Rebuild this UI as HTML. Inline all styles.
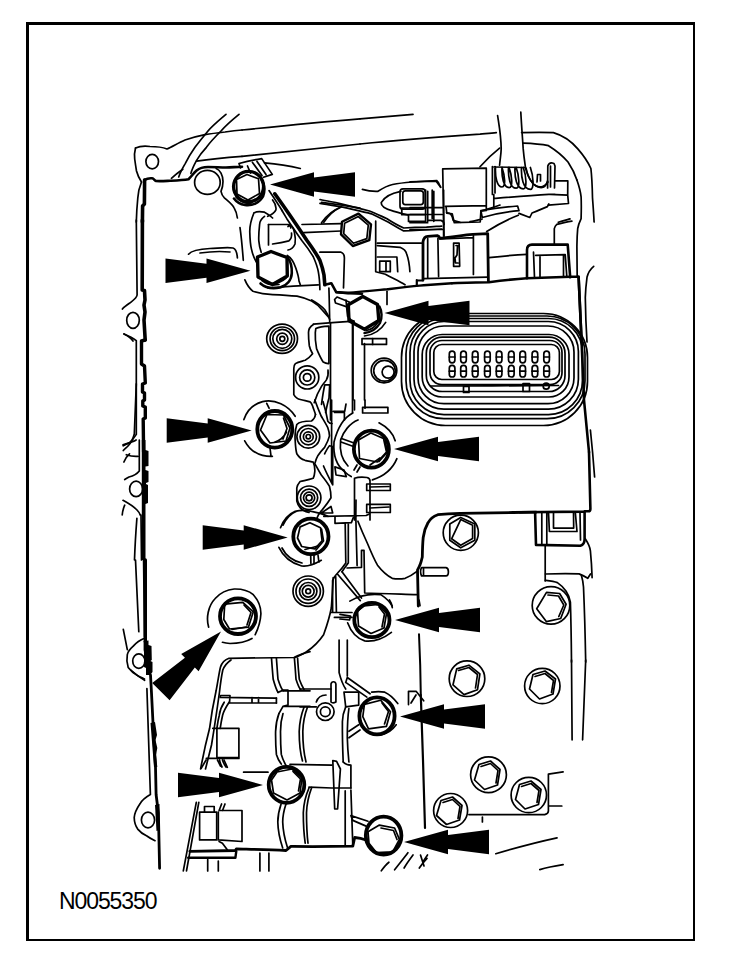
<!DOCTYPE html>
<html><head><meta charset="utf-8"><style>
html,body{margin:0;padding:0;background:#fff;}
body{width:736px;height:954px;overflow:hidden;position:relative;}
svg{position:absolute;left:0;top:0;}
.t{position:absolute;left:59px;top:888px;font-family:"Liberation Sans",sans-serif;font-size:23px;color:#000;letter-spacing:-1.1px;}
</style></head><body>
<svg width="736" height="954" viewBox="0 0 736 954">
<g fill="#000"><rect x="26" y="22" width="669" height="3"/><rect x="26" y="22" width="3" height="919"/><rect x="693" y="22" width="2" height="919"/><rect x="26" y="939" width="669" height="2"/></g>
<g id="drawing" fill="none" stroke="#000" stroke-width="1.7" stroke-linejoin="round" stroke-linecap="round">
<!-- region A: top-left flange -->
<path d="M135.5,148 C140,146 146,146 150,146.5 C156,146.5 162,147 167,149 C172,147 178,143 185,140 C192,137.5 198,136 205,134.6 C212,133.5 218,132.8 225,132 C232,131 236,130.5 242,130"/>
<path d="M135.5,148 C134.5,152 134.2,156 134.7,159 C135.5,165 136,168 136.5,171 C137.5,175 139,178 141.5,182"/>
<path d="M141.5,182 C139,188 138,193 137.8,198 C137,206 136.5,213 136.3,222"/>
<ellipse cx="152.2" cy="161.6" rx="6.3" ry="7.2"/>
<path stroke-width="2.6" d="M144.2,180 C147,178.5 149,178 152,178.3 C154,178.6 154.5,180.5 156,181 C160,181.3 165,181 170,180.8 C176,180.5 183,180.2 188.5,179.2 C192,176 193.5,173 196.6,170.5 C199,168.5 203,167 208,167 C215,167 220,167.5 226,167.5 C232,167.3 236,167 242,166.8"/>
<path stroke-width="3.6" d="M144.6,180 L144.4,204 L142.6,206 L142.4,222"/>
<path d="M226,114.3 C218,121 212,126 208,131 C203,137 199,142 195,147.3 C191,153 188,158 185.2,163.6 C182,169 180,173 178.7,177"/>
<path d="M239,114.3 C232,120 226,125 221,131 C216,136 211,141 206.4,147.3 C202,152 199,156 196.6,160.3 C194,165 192,169 190.9,173.4"/>
<path d="M171.4,178.3 C175,175 179,172 182.8,169.3"/>
<path d="M196.6,161.1 C210,159 225,157.5 242,156.3"/>
<ellipse cx="207.4" cy="182.4" rx="12.8" ry="12"/>
<path d="M216.2,168.5 C220,170 223,175 223,181.5 C223,186 222,189 221,191.3 C221.5,194 222.5,196 224.4,197.8 C228,201 232,204 234,207.6 C236,211 237,214 237.4,218"/>

<!-- region B top -->
<path d="M242,130 C280,126 320,122 360,118.8"/>
<path d="M242,156.3 C280,152 320,148 360,144"/>
<path d="M264.5,162.8 C278,164 290,166 300.3,168.5"/>
<!-- bolt1 -->
<ellipse stroke-width="3.4" cx="248.6" cy="186.6" rx="15" ry="15.2"/><polygon points="247,174.5 258.5,178.8 259.5,193.5 248,200 237,194 236.5,179.5"/>
<path stroke-width="2.6" d="M261.8,180.5 C264.5,184.5 265,191 263,196.5 C259.5,203 252,206 245,205 C240,204.3 236.5,202 234,198.5"/>
<path d="M236,197 C240,202 246,204 252,203 M240,200 C246,203 252,202 258,198"/>
<!-- clip -->
<path d="M239,163.5 L240.5,168 M239,163.5 C246,161.5 254,159.8 261.7,158.6 L272.3,174.4 L263.5,177.3 M252.5,162.5 L262,175.5 M257,161.5 L266,174.5 M247.5,166 L250.5,173"/>
<path d="M269,190.6 C274,198 278,204 282,210.5"/>


<!-- region C/D top right -->
<path d="M360,118.8 C380,117 398,115.5 413,114.3"/>
<path d="M360,144 C400,140 440,137 480,134.2 C486,133.6 491,133 496.3,132.6"/>
<!-- left connector housing -->
<path d="M362.4,189.4 C368,191 373,191.5 378,191.3 C383,188 388,185.5 392.6,184.5 C400,183 406,182.5 412,182 C420,181.5 428,181 436.6,180.5 C438.5,182 439.5,184 440.5,187"/>
<path d="M400.8,191.3 C392,193 384,197 381.2,202.7 C381,206 386,209 392.6,210.9 C398,212.5 403,214 408,215"/>
<rect x="400" y="188.9" width="25.2" height="20.3" rx="3"/>
<rect x="402.8" y="190.8" width="20.5" height="13.8" rx="2.5"/>
<path d="M427.7,191.3 L427.7,221.3 M433.8,191.3 L433.8,221.3 M442.7,168.9 L444,236.3 M442.7,168.9 L486.3,168.2 L486.3,210.4 M445.4,206.3 L486.3,205.7 M446.1,207 L446.8,213.1 L452.2,213.8 L454.3,222.7 L480.2,222 L480.9,211.1 L486.3,210.4 M480.9,211.1 C488,209 494,207 500,205 M410,207.7 L442,207.7 M410,214.5 L442,214.5 M410,222.7 L427.7,222.7 M410,229.5 L444,229.5 M410,181.8 L435.9,181.1 L440.7,187.3"/>
<!-- wires -->
<path d="M497.6,115.5 C499,125 501,135 501.2,148.9 C501,155 500,160 499.6,165.2"/>
<path d="M520.8,112.2 C521.5,125 522.5,138 523.2,148.9 C524,158 525,164 525.6,168.5 C528,177 531,183 536,186 C541,188 546,186 548,182"/>
<path d="M521.6,132.6 C535,132.3 545,132.3 553.4,132.6 C565,136 572,142 577.8,148.9 C584,156 588,162 590.9,168.5 C592,178 592.3,188 592.5,197.8 C593,205 593.6,212 594.1,222"/>
<path d="M523.2,143.2 C532,143.5 540,144 548.5,145.7 C557,151 563,156 568,162 C572,168 575,174 576.9,180"/>
<path d="M480,166.8 C486,160 492,154 499.6,148.1"/>
<path d="M492.4,166.5 L492.4,194.4 M495,166.5 L495,193 M494,167 L525,167.5"/>
<path d="M495.5,167.5 C495.0,177 497.0,187.0 502.0,187.0 C506.0,187.0 505.0,176 502.0,167.5 M502,167.5 C501.5,177 503.5,187.6 509.1,187.6 C513.1,187.6 512.1,176 509.1,167.5 M508.5,167.5 C508.0,177 510.0,188.2 516.2,188.2 C520.2,188.2 519.2,176 516.2,167.5 M515,167.5 C514.5,177 516.5,188.8 523.3,188.8 C527.3,188.8 526.3,176 523.3,167.5 M521.5,167.5 C521.0,177 523.0,189.4 530.4,189.4 C534.4,189.4 533.4,176 530.4,167.5 M526,168 C528,178 533,186 540,187.5 C544,188 546.5,185 547.5,181"/>
<path d="M547.6,188 L547.8,166 C548.5,163.5 550,162.8 551.5,162.8 L554,163.5 L555,166 L554.5,188 M550.5,166 L550.5,187"/>
<path d="M537,182 L537.5,174.5 L540.5,174.5 L540.5,181"/>
<path d="M550,194.3 L567.7,195.1 L568.5,203.5 L548.4,205.2 M555,180.8 L567.8,180.8 L567.7,195.1 M493.8,198.5 C512,197 530,195.5 548.8,194.4 L555,194.4 M493.8,194.6 L493.8,208"/>
<path d="M480.9,210.7 C493,208.5 505,207 517.6,206 L519,210.7 C507,211.5 494,214 482.2,217.5 L480.9,210.7 M519,213.4 L529.8,217.5 L532,213 C537,211 542,209 547.4,206.6 L548.8,204"/>
<path d="M470,221.6 C474,221 478,220 482.2,219 M558.3,222.3 C562,221 566,220 570,218.9"/>

<!-- region E left 220-340 -->
<path stroke-width="3.6" d="M142.4,220 L142.2,290 L144.5,290.5 L145,300 L144,305 L145,312 L144,320 L145.2,340"/>
<path d="M136.3,220 L137.1,295 C136.8,298 133,300.5 129.8,303 C126,305.5 124,307 122.4,309"/>
<ellipse cx="133" cy="320.3" rx="6.3" ry="8"/>
<path d="M124,334 C128,336 131,338 133,341"/>
<path d="M188.5,254.2 C192,250 200,249 210,248.5 C220,248 228,247 233,248 C236,249 237,252 237.4,258 M200,253 C210,251.5 220,251 230,252"/>
<!-- region F -->
<path stroke-width="3.6" d="M274.8,193.8 C285,208 296,224 306.6,240 C311,246 316,253 319.9,260.3 C322,266 323.3,271 324,275 L324.8,284.8"/><path stroke-width="2.6" d="M324.8,284.8 L331.3,283.2 L336.2,292.1 C345,293 352,293.5 362,293.8"/>
<path d="M282,210.5 C284,214 285.8,217 287.3,219.6 C293,228 298,235 302,240.8 C307,247 310.5,252 313.4,257 C316,263 317.5,267 318.3,271.7 C319.5,278 319.8,284 319.9,289.7"/>
<path d="M328.9,288 C329.3,300 329.5,310 329.7,322"/>
<!-- bolt2 -->
<polygon stroke-width="3.4" points="271,251.5 287,257.5 287.3,276 272.5,284.5 258,277 257.5,257"/>
<path stroke-width="2.6" d="M288,258 C291,262 292,267 291.8,273 C291.5,280 287,285.5 280,287.5 C272,289 265,287.5 260.5,283.5"/><path d="M262,280.5 C267,284.5 273,285.5 279,284.5 M267,283 C274,284.5 281,282.5 286,278"/>
<path d="M287.3,255.4 C291,257.5 293.8,262 295.8,268 C297.5,273 298.7,277 299,281 L300.3,284.8"/>
<!-- boss above bolt2 -->
<path d="M268.5,224.5 L288.9,224.5 C292.5,226 294,229 294.5,233 C295.5,237 295.5,241 295,244 C293.5,247.5 291,249.5 288,250"/>
<path d="M268.5,224.5 L268.5,245 M272.6,244 C279,243 284,242 288.9,240.8 C291,239 292,236 291.5,233 M288,226.5 C289,225 291,226 290.8,228"/>
<path d="M253.9,213 C251,220 249.5,226 249.8,232.6 C250,240 250.5,245 251.4,248.9 C252.5,254 254,258 256.3,262 M264.5,216.3 C261,219 259.6,222 259.6,224.5 C258.8,232 258.5,236 258.8,240.8 C259.3,246 260,249 261.2,252.2 M253.9,213 C257,211 261,211.5 264.5,212.2 C268,214 270.5,216 272.6,218 M272.6,200 C275,203 276.5,206 275.9,209.8 C274.5,213 271,215 267.7,216.3"/>
<path d="M240,227.7 C241.5,238 242.5,250 243.3,260.3"/>
<path d="M244.9,279.9 C247,285 250,289 253,291.3 C260,293.5 266,294.2 272.6,294.6 C282,295 290,295.5 297,296.2 C303,297.5 307.5,299 311.7,301 C316,303.5 319,306 321.5,309.2 C324,312 326.5,315 328.9,317.4"/>
<path d="M267.7,288 C285,286.5 300,285.5 318.3,284.8"/>
<path d="M302,224.5 L341,223.6 M303.6,232.6 L341,231 M321.5,202.4 C335,204 348,206 360,208.2 M321.5,222.8 C327,215 333,210 341,207.3"/>
<path d="M319.9,252.2 L341,252.2 C343.5,253 344.4,255 344.4,258 L343.5,288"/>
<path d="M334.6,299.5 L337,297 L349.2,302 L349.2,307.6 L335.5,303 Z"/>

<!-- region G 330-450 x 200-320 -->
<path d="M320,199.5 C326,201 333,202 339,203.3 C350,206 360,208.5 369.5,211 C376,213.5 381,216 386.6,218.5 C392,222 398,225.5 403.7,228 C411,227.5 418,227.2 426.5,227.1 C432,226.8 437,226.4 441.7,226.1"/>
<path d="M320,203.3 C328,204.5 335,205.8 342.8,207.1 C353,209.5 362,211.5 371.4,213.8 C377,216.5 383,219.5 388.5,222.3 C394,225.5 399,228.5 403.7,230.9 C416,230.5 428,229.8 441.7,229"/>
<path d="M323.8,222.3 C328,216 333,211 339,208"/>
<!-- bolt3 double hex -->
<polygon stroke-width="2.4" points="358.5,213.6 371,224.3 369.3,240.2 352.8,246 341,234.3 342,221.8"/>
<polygon points="358.3,216.5 368.3,225.2 366.8,238.6 353.3,243.2 343.7,233.6 344.6,223.3"/>
<path d="M401.8,208 L425.6,208 M401.8,208 L401.8,214.7 L425.6,214.7 M408.5,214.7 L408.5,221.4 L425.6,221.4 M425.6,190 L425.6,222 M432.2,190 L432.2,218.5 M443.6,190 L443.6,235.7"/>
<path d="M446.5,212.8 C450,212.5 452,214 453.2,220.4 L460,222.3 M427.8,220.4 L440.9,220.4 C443,221 444.1,222.5 444.1,224.5"/>
<!-- box area -->
<path d="M375.7,221.2 L375.7,271.7 L385.4,274.2 C392,278 399,281 405,284.8"/>
<path d="M377.3,243.2 L421.3,243.2"/>
<path d="M377.3,245.7 L400,247.3 C404,249 406,251 406.6,253.8 C408.5,259 409.5,265 409.9,271.7"/>
<path d="M377.3,257 L396.9,257 L397.7,271.7"/>
<path d="M379.7,261.1 L390.3,261.1 L390.3,271.7 L379.7,271.7 Z M386,262 L386,271"/>
<path stroke-width="2.4" d="M336.2,292.1 C340,292.5 343,293 348,293 C360,291.5 373,290.5 387,289.3 C397,288 408,286.5 419.7,285.6 C430,284.8 440,284 452,283.2"/>
<path d="M387,291.3 L387,304.4"/>
<!-- connector 2 -->
<path stroke-width="2.8" d="M423,280 L423,241.8 C423.5,238.5 425,236.5 427.7,236.3 L437.3,235.6 C438.5,236 439.5,237 440,238.4"/>
<path d="M427.7,238.4 L427.7,277.2 M437.9,238.4 L438.6,276.5 M473.4,235.6 L473.4,274.5 M441.3,239 L472.7,237.7 M423.6,278.6 L487.7,277.2"/>
<path stroke-width="2.2" d="M416.8,280 L416.8,285.4 M416.8,280.5 L423,280.5"/>

<!-- region H 440-600 x 200-320 -->
<path stroke-width="2.8" d="M440,238.4 C450,237 460,235.5 472.7,234.3 L487.7,233.6 L488.4,281.5"/>

<path d="M453.6,243.1 L459.1,243.1 L459.7,266.3 L453.6,266.3 Z M456,245.5 L457.5,245.5 L457,255 L455,258 L455.5,263 L458,263"/>
<path stroke-width="2.6" d="M452,283.2 C465,282.8 477,282.4 488.9,282.2 C502,280.5 515,279 527,278.3 C545,277.6 560,277.2 570.4,276.8 L578.6,276.8 L581.6,342"/>
<path stroke-width="2.6" d="M527,278.3 L527,250 C527,246.5 529,244.6 532,244.6 L567.7,244.6 L570.2,277.3"/>
<path d="M533.5,252.2 L534.5,277.5 M535.7,255.4 L565.2,254.6 L566.8,276.4 M540,256.5 L540,277 M563.5,255.5 L563.5,276"/>
<path d="M488.9,257.6 C502,256.2 515,255 527,254.3"/>
<path d="M486.7,231.5 C497,225 507,219.5 518.3,215.2"/>
<path d="M554.3,243.7 L554.3,228.6 C555,226 556,225 556.8,224.4 C562,223 567,221.8 571.9,221.1"/>
<path d="M576.9,180 C579,186 580.5,191 581.1,196.8 C581.5,205 581.3,212 581.1,218.6 C579.5,222 578.2,225 577.7,228.6 C577,236 577,241 576.9,247 L577.2,277"/>
<path d="M593.7,266.4 C590,269.5 588,273 587,277.3 C586,285 585.5,291 585.3,297.4 C585.5,312 586,326 587,342"/>

<!-- region left 330-450 -->
<path stroke-width="3.4" d="M145.2,340 L141.5,341 L141.5,364 L144.5,366 L145.3,383 L142.5,384 L142.5,392 L144.5,393 L144.5,400 L142.8,401 L142.8,406 L145.3,407 L145.3,418 L143.2,419 L143.6,452"/>
<path d="M124,334 C129,336 133,338 136.3,340.6 L136.3,434.4 C134,438 131.5,441 129.8,442.5 C127,444 125,445 123.3,445.8"/>
<path d="M136.3,383.8 L134.3,434 C133,439 131,443 128,446 C126,448 124.5,449 123.3,450.5"/>
<!-- plugs -->
<ellipse cx="282.1" cy="338.8" rx="15.4" ry="14.6"/>
<ellipse cx="282.3" cy="338.8" rx="12.2" ry="11.8"/>
<circle cx="282.3" cy="338.8" r="9.5"/>
<circle cx="282.3" cy="338.8" r="5.6"/>
<circle cx="282.3" cy="338.8" r="2.5"/>
<circle cx="307.2" cy="377.4" r="11.6"/>
<circle cx="307.2" cy="377.4" r="7.6"/>
<circle cx="307.2" cy="377.4" r="3.8"/>
<!-- profile -->
<path d="M311.7,300 C317,303 321.5,306 324.8,309.8 C327,313 328.5,316 329.7,319.6"/>
<path d="M313.4,324.2 C326,323 340,322 354,321.2"/>
<path d="M313.4,324.5 C310,326.5 308.5,330 308.5,332.6 C308.5,337 308.8,342 309.3,345.7 C310,349 311.5,352 312.6,353.8 C310,357 308,359 305.2,360.3 C301,361.5 298,362 295.4,363.6 C293.8,365 293.8,366.5 293.8,368.5 L293.8,394.6 C295.5,397.5 297.5,399 300.3,399.5 C304,400.5 307,401 310.1,401.9 C311.5,403 312,404.5 312.6,406 C313.5,409 314.5,411 315.5,414.5"/>
<path d="M328,370.1 C328.5,374 328,377 326.4,379.9 C325,382 323,384 321.5,386.4 C318,392 316,397 314.2,402.7"/>
<path d="M315.8,328.5 C319,327 324,326.3 328.9,326.1 L328.9,363.6 C326.5,363.8 324.8,363 323.2,362 C320.5,358 318.5,353 316.6,348.9 C315.5,343 315,338 315.3,332.6 Z"/>
<path d="M321.5,404.4 C322.5,397 323.5,390 324.8,384.8 L329.7,384.8 L329,398 C327.5,403 326.5,408 325.6,412.5"/>
<path d="M330.5,322.8 L330.5,420 M352.5,321.2 L352.5,412.5 M334.6,412.5 L344.4,412.5 L344.4,420"/>
<path d="M346,300 C346.5,306 347,311 347.6,316.3 C349.5,319 351.5,320.5 354,321.2"/>
<!-- bolt4 -->
<polygon stroke-width="3.4" points="362.8,296.5 377.5,304.5 378.8,320.5 364.5,329.3 349,320.8 348.3,304.8"/>
<path stroke-width="2.4" d="M379.5,306.5 C382,311 382.3,318 380,323 C376.5,329 371,332.3 364.5,333"/><path d="M366,330.5 C371,330 375,327 378,322"/>
<path d="M364.5,336 C373,335 381,330 385.7,322.4"/>
<path d="M353,324 L353,400 M364.5,343.6 L364.5,400"/>
<rect x="362" y="338.7" width="24.5" height="5.7"/>
<path d="M372.6,338.7 L372.6,344.4"/>
<ellipse cx="384" cy="370.5" rx="12.8" ry="12.3"/>
<ellipse cx="384.5" cy="370.8" rx="10.8" ry="10.4"/>
<circle cx="388.1" cy="372.1" r="6"/>
<path stroke-width="2.6" d="M578.6,276.8 L581.6,342 L584,400 L589,452"/>

<!-- big connector -->
<rect x="433.8" y="344.5" width="125.6" height="35.0" rx="8" ry="8.0"/>
<rect x="430" y="340.5" width="132.0" height="44.2" rx="12" ry="12.0"/>
<rect x="426.3" y="337.2" width="138.7" height="54.3" rx="16" ry="16.0"/>
<rect x="422.2" y="334.5" width="146.8" height="62.5" rx="20" ry="20.0"/>
<rect x="418" y="326" width="156.0" height="77.7" rx="26" ry="26.0"/>
<rect x="414" y="321.5" width="164.4" height="87.7" rx="30" ry="30.0"/>
<rect x="410" y="318.5" width="172.5" height="96.1" rx="34" ry="34.0"/>
<rect x="406" y="316" width="179.0" height="102.7" rx="38" ry="38.0"/>
<rect x="401.5" y="313.5" width="186.0" height="112.0" rx="44" ry="44.0"/>
<rect x="449.3" y="351.2" width="5.6" height="11.6" rx="2.8"/>
<path d="M449.3,357.0 H454.9"/>
<rect x="460.7" y="351.2" width="5.6" height="11.6" rx="2.8"/>
<path d="M460.7,357.0 H466.3"/>
<rect x="472.4" y="351.2" width="5.6" height="11.6" rx="2.8"/>
<path d="M472.4,357.0 H478.0"/>
<rect x="484.6" y="351.2" width="5.6" height="11.6" rx="2.8"/>
<path d="M484.6,357.0 H490.2"/>
<rect x="496.3" y="351.2" width="5.6" height="11.6" rx="2.8"/>
<path d="M496.3,357.0 H501.9"/>
<rect x="508.5" y="351.2" width="5.6" height="11.6" rx="2.8"/>
<path d="M508.5,357.0 H514.1"/>
<rect x="519.9" y="351.2" width="5.6" height="11.6" rx="2.8"/>
<path d="M519.9,357.0 H525.5"/>
<rect x="532.1" y="351.2" width="5.6" height="11.6" rx="2.8"/>
<path d="M532.1,357.0 H537.7"/>
<rect x="543.8" y="351.2" width="5.6" height="11.6" rx="2.8"/>
<path d="M543.8,357.0 H549.4"/>
<rect x="449.3" y="365.4" width="5.6" height="11.6" rx="2.8"/>
<path d="M449.3,371.2 H454.9"/>
<rect x="460.7" y="365.4" width="5.6" height="11.6" rx="2.8"/>
<path d="M460.7,371.2 H466.3"/>
<rect x="472.4" y="365.4" width="5.6" height="11.6" rx="2.8"/>
<path d="M472.4,371.2 H478.0"/>
<rect x="484.6" y="365.4" width="5.6" height="11.6" rx="2.8"/>
<path d="M484.6,371.2 H490.2"/>
<rect x="496.3" y="365.4" width="5.6" height="11.6" rx="2.8"/>
<path d="M496.3,371.2 H501.9"/>
<rect x="508.5" y="365.4" width="5.6" height="11.6" rx="2.8"/>
<path d="M508.5,371.2 H514.1"/>
<rect x="519.9" y="365.4" width="5.6" height="11.6" rx="2.8"/>
<path d="M519.9,371.2 H525.5"/>
<rect x="532.1" y="365.4" width="5.6" height="11.6" rx="2.8"/>
<path d="M532.1,371.2 H537.7"/>
<rect x="543.8" y="365.4" width="5.6" height="11.6" rx="2.8"/>
<path d="M543.8,371.2 H549.4"/>
<path d="M430.5,386 C470,386 520,385.8 558.5,385.5"/>
<rect x="463.5" y="386.5" width="5.5" height="6"/><rect x="523" y="383.5" width="6.5" height="8"/><circle cx="546.2" cy="386.2" r="3"/>
<!-- row 400-520 middle -->
<!-- bolt5 -->
<ellipse stroke-width="3.8" cx="274.8" cy="429.3" rx="17.5" ry="18.3"/>
<polygon points="267,414.5 283.5,415 290,428 286,441 270,443 260.5,430"/>
<path d="M283.5,418 L287,428.5 L283,439 M286.5,432 C284,437 280,440.5 275,442"/>
<path d="M243.9,419.6 C247,410 254,404 262.6,401.6 C275,399 288,405 295.2,416.3"/>
<path d="M244.7,440.8 C249,449 255,453.5 262.6,455.4 C266,456.2 269,456.4 272.4,456.3 M270,448 L271,456"/>
<path d="M266.7,403.3 L269.1,408.2"/>
<!-- plugs 4,5 -->
<circle cx="308.3" cy="436.7" r="11.4"/><circle cx="308.3" cy="436.7" r="8.2"/><circle cx="308.3" cy="436.7" r="4.9"/><circle cx="308.3" cy="436.7" r="2.2"/>
<circle cx="309.1" cy="497.8" r="11.8"/><circle cx="309.1" cy="497.8" r="8.6"/><circle cx="309.1" cy="497.8" r="5.6"/><circle cx="309.1" cy="497.8" r="3"/>
<path d="M315.5,414.5 C315,418 313,420 311.5,421 C306,421 300,421 296.8,424.5 C295,430 294.8,436 295.2,440.8 C295.5,447 296,451 296.8,453.8 C299,457.5 302,459.5 305,460.3 C308,461 311,461.5 313.2,462 C314.5,465 315,468 314.8,471.7 C314.5,475 314,477 313.2,478.3 C308,480 304,480.5 300.1,481.5 C298,484 297,486 296.8,488 L296.8,501.1 C297.5,504 298.5,506 300.1,507.6 C302,510 305,511.5 309,512.5"/>
<path d="M314.8,400 C317,406 319,411 321.3,416.3 C323.5,420 326,424 327.8,427.7 C329,431 329.5,433.5 329.5,435.9 C328.5,440 326.5,444 324.6,447.3 C322,450 320,452.5 318,455.4 C316.5,458 315.5,461 314.8,463.6 C317,467.5 319,471.5 321.3,475 C324.5,479 327.5,483 329.5,486.4 C330.5,490 331,494 331,497.8 C328.5,502 325,506.5 321.3,510.9 C319.5,513 318,515 317,518"/>
<path d="M323,401.6 C325,408 326.5,414 327.8,421.2 C329,423 330.5,423.5 332,423.5"/>
<path d="M324.6,453.8 C326,451 327.5,448 329.5,445.7 L332.7,446.5 L332.7,484.8 C329,478 326,472 323.5,466"/>
<!-- bolt6 -->
<ellipse stroke-width="3.8" cx="371.4" cy="449.2" rx="17.5" ry="18.5"/>
<polygon points="370.8,433 383.5,438.5 386.5,452 377.3,462 359.5,458.5 358.5,440"/>
<path d="M385,441 L387.5,452 L379,461.5 M380,458 L370,465"/>
<path d="M352.8,413 C343,418 337,430 334,442 C333,455 337,466 345,472 C347,474 349,475.5 351.2,476.6 M358,420 C350,423 343,432 340.6,440 C339.5,450 342,460 348,466"/>
<path d="M379,422.8 C387,427 393,433 395.2,440.8 M396.9,458.7 C393,468 385,476 372.4,479.9"/>
<path d="M341.5,438.5 L354,443 M341,442 L353.5,446.5 M357,465 L354,470 M360,467 L357,472"/>
<path d="M354.5,478.3 L354.5,520 M370,480 L370,520 M354.5,478.3 C358,477 363,477 367,477.5 C369,478 370,479 370,481"/>
<rect x="366.7" y="484" width="23.6" height="6.5"/><rect x="366.7" y="504.4" width="23.6" height="8.1"/>
<path d="M370,487 L389,486.5 M370,508 L389,507"/>
<rect x="362.6" y="407.3" width="25.3" height="5.7"/>
<path d="M354.5,400 L354.5,409.8 M365,400 L365,408.2 M333.3,411.4 L344.7,411.4 L346,404 M331.6,400 L331.6,482 M334.9,466.9 L336,475 L346.3,476.6 L344,470 Z"/>
<!-- connector 4 tab etc -->
<path stroke-width="2.6" d="M589,452 L590.4,508.8 C590.3,510.5 589.5,511.3 588.5,511.3 L584.6,511.3 M584.6,511.6 L520,512.2"/>
<path d="M590.4,430 C592,445 593.5,462 594.6,477"/>
<path stroke-width="2.6" d="M535.1,512.2 L536,544.9 L580.4,545.7 C583,545 584.6,542 584.6,539 L584.6,512"/>
<path d="M541.8,512.2 L541.8,544 M546.8,512.2 L546.8,544 M548.5,512.2 L549.4,531.5 L577,531.5 L575.3,512.2 M553.5,512.2 L553.5,528.1 L573.7,528.1 L573.5,512.5 M580,512.5 L580.5,540"/>
<path d="M545.2,545.7 L545.2,581 M585.4,539 C588,543 590,547 590.4,550.8 C591.3,560 591.8,568 592.1,577.6"/>

<!-- left column 440-560 -->
<path fill="#000" stroke="none" d="M141.8,450 L141.8,560 L145.5,560 L145.5,504 L148,503 L148,485 L146,484 L146,483 L148.5,482 L148.5,471 L145.5,470 L145.5,466.5 L148.5,466 L148.5,451 L145.5,450 L145.5,440 L141.8,440 Z"/>
<path d="M123,444.9 C128,443 133,442 136.1,440 M126.3,454.7 C130,456 134,456.5 137.7,456.3 M123.9,462 C125,459 127,456 129.5,453.8 M139.3,440 L139.3,471 C137,474 133,476 129,477 C127,478 125.5,479 124.7,479.5"/>
<ellipse cx="136.1" cy="488.9" rx="6.5" ry="7.7"/>
<path d="M123,500.3 C128,503 133,506 137,510 C139,512 140,514 140.2,515 M124.7,505.2 C123.5,508 122.5,511 122.2,515 M141,515 L141.5,560 M136.9,518.3 C136,530 135,545 134.5,560"/>

<!-- 500-620 middle-left -->
<ellipse stroke-width="3.8" cx="310.9" cy="536.4" rx="17.6" ry="17.8"/>
<polygon points="300.1,526.9 309.9,522.8 320.5,527.7 322.1,540.8 314.8,548.9 301.7,546.5 297.5,538"/>
<path d="M321.5,529 L323.5,541 L316,550 M318,546 L305,549.5"/>
<path d="M280.5,527.7 C284,519 289,514 295.2,511.4 C300,510 306,510 311.5,511.4 C318,512.5 323,514 327.8,516.3 M283,525 C287,517 292,513 297,511"/>
<path d="M278.9,547.3 C283,556 291,563 301.7,566 C309,567 315,564 321.3,560.3 M282,548 C286,556 293,561 302,563"/>
<path d="M310.7,555.4 L310.9,563.6 M314,555.4 L314,563.6 M318,555 L318.9,562"/>
<circle cx="308.2" cy="591.2" r="15.2"/><circle cx="308.2" cy="591.2" r="12.2"/><circle cx="308.2" cy="591.2" r="8.7"/><circle cx="308.2" cy="591.2" r="5.9"/><circle cx="308.2" cy="591.2" r="2.4"/>
<path d="M321.3,513 L331,506.5 L332.7,513 Z"/>
<path d="M335,517 L335,523.3 L351.4,522.6 L353.3,517.6 M345.2,523.9 L345.8,562.9 C343,567 340,570.5 337.6,573 C335.5,575 334,577 332.6,580.5 L332.6,612 M348.3,523.9 L348.3,562.9 C346,566 344,568.5 342,571.7 M335.7,576.7 L336.4,612"/>
<path d="M331,612.5 L352,612.5 M334.4,617.4 L352,617.4"/>

<!-- 340-460 x 500-620 -->
<path d="M323.8,516.4 L366.1,515.5 L369.3,513.9 M356,500 L355.8,516.4"/>
<path stroke-width="2.8" d="M536,512.2 C510,512.5 480,513 460,513.3 C452,513.6 445,514 437.8,514.7 C433,516.5 430,519 428,522.8 C425,528 423.8,532 423.2,537.5 C422.5,545 422.4,551 422.3,557 C421.5,560.5 420.8,563 419.9,565.2 C419,567 418.2,568.5 417.5,570.1 L418.3,606"/>
<path d="M421.5,567.7 L446,567.7 C447.5,568 448.4,570 448.4,571.7 C448.4,574 447.5,575.8 446,575.8 L421.5,575.8 C420.3,573 420.3,570 421.5,567.7 Z M423.5,568 L423.5,575.5"/>
<path d="M357.9,521.2 C361,529 364.5,537 367.7,544 C371,552 374,559 377.5,565.2 C382,571 386,575 392.2,578.3 C396,579 401,579 405.2,578.3 C409,577 413,574.5 416.6,571.7"/>
<path d="M355.8,516.4 L357.1,565.4 M347,568 L361.5,567.3 M361.5,567.3 L361.5,550.3 L364,550.3 L364.7,593 C380,593.3 398,594 416.6,594.6"/>
<path d="M337.6,574.2 L360.3,600.6 M342,571.7 L361.5,598.1"/>
<path d="M349.8,601.1 C358,596 370,593.5 380.8,594.6 C386,598 390,602 392.2,606"/>

<!-- thin bolts right -->
<circle cx="460.8" cy="532.8" r="17.6"/>
<polygon points="460.7,517.4 474.8,523.9 474.8,540.2 460.7,547.8 449.8,540.2 449.8,523.9"/>
<polygon points="460.7,519.6 472.6,525.2 472.6,538.6 460.7,545.2 451.6,538.8"/>
<circle cx="551" cy="605.4" r="18.8"/>
<polygon points="546.5,592.4 559.6,593.5 566.1,604.3 560.7,618.5 546.5,621.7 536.7,608.7"/>
<path d="M548,595 L558.5,596 L563.8,605 L558.8,616.5"/>
<path d="M545.4,574 C560,573.5 570,573.5 579.1,573.9 C582,575 585,576.5 587.8,578.3 C588.5,577 589.5,575.5 590.5,574"/>
<path d="M545.4,580.4 C550,581 554,581.5 557.4,582.6 C561,585 564,588 566.1,591.3 C568.5,595 570,599 570.4,602.2 C571,620 571.3,640 571.5,662"/>
<path d="M581.3,575 C582.5,579 583.2,583 583.5,587 C584.5,610 585.2,635 585.7,662"/>

<!-- lower left 560-680 -->
<path stroke-width="3.4" d="M145.3,560 L145.3,641.5"/>
<path fill="#000" stroke="none" d="M143.6,641 L148.5,640.5 L148.5,645 L151.5,646 L151.8,660 L150.5,661 L152.5,662 L152.5,672 L150.2,675 L146,675 L146,668 L144,667 L144,652 L143.6,650 Z"/>
<path d="M143.6,560 L144.5,636.6 M135.5,560 L138.8,631.7 M123.3,629.3 L127.3,649.7 M144.5,638.3 C140,640 136,643 133,646.4 C130,649 128,651.5 127.3,654.6 C126.5,659 127,664 128.2,667.6 C131,671.5 134.5,674 137.9,675.8 C140,677 142.5,678 144.5,679"/>
<ellipse cx="138.8" cy="661.1" rx="6.1" ry="7.3"/>
<!-- bolt 11 -->
<ellipse stroke-width="3.8" cx="238" cy="616.2" rx="18" ry="17.8"/>
<polygon points="224.7,604.2 242.8,602.3 253.3,611.8 248.5,627.1 229.5,629 223.8,619.5"/>
<path d="M244,605 L251,612.5 L247,625 M246.5,627 L232,629.5"/>
<path d="M208.6,627.1 C206,618 208,606 215.2,598.5 C221,592 228,589.5 234.2,589 C242,588.8 249,591 253.3,594.7 C258,600 261,606 260.9,613.8 C260.5,622 258,629 255.2,634.7 M252,638.5 C246,642 238,643.5 230,643.5 C227,643.3 225,643 222.5,642.3"/>
<!-- bolt 8 (arrow7) -->
<ellipse stroke-width="3.8" cx="371.9" cy="620" rx="17.6" ry="17.2"/>
<polygon points="364,606 378,604.5 386.5,613.5 384,628 371,633.5 358.5,626 357.5,611"/>
<path d="M379,607 L384.5,614 L382,627"/>
<path d="M347.6,622.8 C351,632 357,638.5 364.7,640.9 C375,642 384,638 391.4,632.3 M389.5,600 C391,602 392,605 392.3,607.6"/>
<path d="M340,614.3 L350.5,616.2 L349.5,620 L340,619"/>
<path stroke-width="2" d="M419,634.2 L420.2,665 L420.8,695.1"/>
<path d="M408.5,691.3 L408.5,704.6 M408.5,691.3 L416.1,691.3 L423.7,700.8 M416,695 L411,703 M419,600 L420,605.7"/>
<!-- lower body outline -->
<path d="M333.2,577.6 C332.5,590 332,600 331.3,608 C329,620 326,628 323.6,634.7 C318,643 312,648 306.5,651.8 C302,654.5 298,656.5 295.1,657.5 C280,657.8 260,658 229,658.3 C224,660 221.5,664 220.5,667 C219,673 218.2,680 216.1,690.8 C213,705 211,717 209.6,728.3 C206,742 203,756 200.6,769"/>
<path d="M231,660 C226.5,663 224,667 222.8,670 C221.5,676 220.5,683 219.5,692 C217,710 214,730 211.5,745 C209,755 207,763 205.5,769"/>
<path d="M220.2,697.3 L276.4,698.1 M229.1,703 L276.4,703 M220.2,697.3 L220.5,695.5 L230,695.5 L229.5,703 M252,697.5 L252,703 M258.5,697.5 L258.5,703"/>
<path d="M224.2,702.2 C221,707 219.8,711 219.3,715.2 C218,720 217.5,724 216.9,728.3 M229.1,702.2 C226,707 223.5,711 222.6,715.2 C221.5,720 220.8,724 220.2,728.3"/>
<rect x="216.9" y="728.3" width="22" height="29.3"/>
<path d="M212.8,728.3 L216.9,728.3 M206.3,758.4 L238.9,758.4 M219.5,760 C220,763 221,765 222,767 M222.5,760 C223.5,763 224.5,765 226,767"/>
<!-- cylinder1 -->
<path d="M271.5,658.2 C272,665 272.5,672 273.2,679.3 C274.5,684 276,689 278,692.4 M276.4,658.2 C277,665 277.3,672 278,679.3 C279.5,684 281,688 283,690.8 M294.4,658.2 C295,665 295.5,672 296,679.3 C297.5,684 299,688 300.9,690 M297.6,658.2 C298,665 298.6,672 299.3,679.3 C301,684 302.5,687 304,689.5"/>
<path d="M294.4,657.3 C298,655.5 301,654 304.1,653.3 C306,652.7 308,652 310,651.6"/>
<path d="M283,690.8 L310,690.8 M283,706.3 L310,706.3 M278,692.4 L283,690.2 L288,690.2 L288,705 L283,706.3 L278.9,713.6 M276.4,698.1 L276.4,703"/>
<!-- cylinder2 -->
<path d="M278.9,713.6 C276.5,720 275.8,726 275.6,731.5 C275.5,740 275.8,748 276.4,754.4 C277.5,758 279,761 281.3,764.1 M283,713.6 C281,720 280.5,726 280.5,731.5 C280.5,740 280.8,748 281.3,754.4 C282.5,759 284,762 286.2,765.8 M304.1,707 C301,715 299.5,723 299.2,731.5 C299.2,745 300.5,754 302.5,760.9 M307.5,707 C304.5,715 303,723 302.8,731.5 C302.8,745 304,754 306,762"/>
<path d="M300,689 L331,689 M300,706.8 L316.3,706.8 M339.1,640 C339.1,655 339.1,665 339.1,672.6 C341,680 343,685 345.7,689 M347.3,640 L347.3,676"/>
<path d="M345.7,706.8 C343.5,712 342.5,716 342.4,721.5 C342.3,735 342.6,748 343.2,762 M348.9,708.5 C347.8,716 347.3,728 347.3,737.8 C347.5,746 348,753 348.9,762"/>
<path d="M344,692.2 L358.7,692.2 L358.7,705.2 L345.7,706.8 Z"/>
<path d="M331,684 C331.5,681 335.5,681 335.9,684 L335.9,702 C334,703 332,703 331,702 Z"/>
<circle cx="325.3" cy="711.7" r="8.8"/><circle cx="325.3" cy="711.7" r="4.9"/>
<path d="M316.3,702 C318,697 322,695 326,695"/>
<path d="M347.3,677.5 L370.1,693.8 M345.7,682.4 L366.9,697.1 M347.3,677.5 L345.7,682.4"/>
<path d="M348.9,731.3 L358.7,724.8 M348.9,737.8 L360,730"/>
<!-- bolt12 -->
<ellipse stroke-width="3.8" cx="377" cy="715.9" rx="17.6" ry="18.5"/>
<polygon points="364.4,704.4 380.7,700.3 390.5,711.7 386.4,726.4 368.5,728.9 362.8,716.6"/>
<path d="M382,703 L388.5,711.5 L384.5,724"/>
<path d="M371.7,692.2 C376,691.5 381,691.5 384.8,692.2 C390,694.5 394,698.5 397.8,703.6 M396.2,724.8 C392.5,730 387,733.5 381.5,734.6"/>

<!-- bottom 760-880 -->
<ellipse stroke-width="3.8" cx="286.5" cy="784.8" rx="17.8" ry="18"/>
<polygon points="277,772 292,769 302,778 300,793 287,800 273.5,793 271.5,780"/>
<path d="M293,771.5 L300.5,779 L298.5,791"/>
<path d="M243.6,772.2 L268,772.2"/>
<path d="M201.2,768.2 L206.1,760 M217.5,760 L220.5,766 M224,760 L227.3,767.3"/>
<path d="M196.3,802.4 L183.3,870.9 M198.8,802.4 L186.5,870.9"/>
<rect x="199.6" y="812.2" width="17.1" height="27.7"/>
<path d="M204.5,812.2 L204.5,806.5 L214.2,806.5 L214.2,812.2 M219.1,810.5 L242,810.5 L242,841.5 L218.3,839.9 M219.1,841.5 L222.4,843.2 L227.3,849.7 M221.6,804 L219.1,810.5 M225,804 L222.5,810.5 M218.3,812 L218.3,840"/>
<path stroke-width="2.8" d="M189.8,851.3 L235.4,850.5 L236.3,848.9 C250,849.3 268,849.7 286,850.5 L290.9,846.4 C300,846.5 320,846.8 352.8,846.1 L354.7,837.5 C358,837.8 362,838.5 366,840"/>
<path stroke-width="2.4" d="M188.2,857.8 L235.4,857.8 L236.3,851"/>
<path d="M207.7,859.5 L207.7,870.9 M218.3,861.1 L218.3,870.9 M259.9,853 L259.9,870.9 M268.9,853 L268.9,870.9"/>
<!-- cylinder3 -->
<path d="M281.1,804 C279,810 277.8,816 277.8,822 C278,832 280,840 282.7,848 M286,804 C284,810 282.7,816 282.7,822 C283,832 285,840 287.6,848"/>
<path d="M309,788 C305.5,796 303.6,804 303.3,812.8 C303.3,825 304,835 305.2,843.2 M311.7,787.5 C308.5,796 306.8,804 306.5,812.8 C306.5,825 307,835 308,843.2"/>
<path d="M309,787.1 L331.8,788 M330,788 L350.9,788 M350.9,790 L352.8,845.1 M345.2,790.9 L345.2,845.1"/>
<path d="M332.8,760.5 L336.6,761.4 L340.4,769 L337.6,809 L334.7,809 Z"/>
<path d="M290,764.3 C300,764.5 315,764.8 331.8,765.2"/>
<path d="M343.2,762 C345,764 347.5,765 350.9,765.2 L350.9,788"/>
<!-- bolt14 -->
<ellipse stroke-width="3.8" cx="383.6" cy="835.6" rx="17.8" ry="19"/>
<polygon points="368,831.8 379.4,825.1 394.6,828 399.4,839.4 392.7,851.8 376.6,852.7 369,843.2"/>
<path d="M381,828 L393.5,830.5 L397,839.5"/>
<path d="M350.9,815.6 L368,821.3 M352.8,820.4 L366.1,826.1 M350.9,815.6 L352.8,820.4"/>
<path d="M381.3,870.8 C384,867 386.5,864 388.9,862.2 M394.6,869.8 C399,864 404,858 407.9,852.7 M404.1,868 C407,863 410,859 413,855 M419.3,868 C422,864 424.5,861 427,858.4"/>
<path stroke-width="2.2" d="M420.8,695.1 L423,760 L425,828"/>

<!-- right-bottom thin bolts -->
<circle cx="467" cy="678.7" r="17.8"/>
<polygon points="456.7,668.9 468.9,665.2 479.9,673.8 477.5,689.7 464,694.6 453,684.8"/>
<path d="M458.5,670.5 L468.9,667.5 L477.5,674.5 L475.5,688"/>
<circle cx="542.3" cy="686" r="17.7"/>
<polygon points="533,674.5 545,671 555.5,679 553,694 539.5,699 529.5,689"/>
<path d="M535,676.5 L545,673.5 L553.5,680.5 L551.5,692.5"/>
<circle cx="488.5" cy="774.8" r="17.9"/>
<polygon points="479,764.5 490.5,761 500,769.5 497.5,785 484.5,789.5 474.5,780"/>
<path d="M481,766.5 L490.5,763.5 L498,770.5 L496,783"/>
<circle cx="528.8" cy="795" r="17.7"/>
<polygon points="519.5,784.5 531,781 541,789.5 538.5,804.5 525,809 515.5,799.5"/>
<path d="M521.5,786.5 L531,783.5 L539,790.5 L537,802.5"/>
<circle cx="450.6" cy="810.5" r="17"/>
<polygon points="441,800.5 452.5,797 462,805.5 459.5,820 446.5,824.5 436.5,815.5"/>
<path d="M443,802.5 L452.5,799.5 L460,806.5 L458,818.5"/>
<path d="M468.9,814.6 C490,814.6 520,814.6 544.7,814.6 C547,814 548.4,812.5 548.4,810.9 L548.4,774.2 L563.1,771.8 M548.4,806 L561.8,806"/>
<path d="M482.4,817 L482.4,822"/>
<path d="M495.8,853.7 C515,848 535,842.5 557,837.8 M539.8,869.6 C547,867.5 555,866 563.1,864.7"/>
<path d="M420.5,855 L424,866 M423.5,861 L427.5,855"/>
<path d="M571.5,660 L572.1,739.8 M585.7,660 L582.6,739.8"/>

<!-- lower left edge -->
<path stroke-width="2.8" d="M150.5,675 L151.5,693 L153,723 L155.5,766.9 L156.1,794.5 L158.4,813 L159.6,868.3"/>
<path fill="#000" stroke="none" d="M150.5,723 L155,722 L157,735 L155.5,740 L157.3,748 L156,755 L157.3,766.9 L154,767 Z"/>
<path d="M146.9,688.5 L150.4,794.5 C146,797 142,800 140,803.8 C136.5,809 134.5,813 134.2,817.6 C134.3,822 135.5,826 137.7,829.1 C140.5,832.5 143.5,834.5 146.9,836 C149.5,838 152.5,839.5 155,840.7"/>
<ellipse cx="148" cy="820" rx="6.6" ry="7.8"/>
<path d="M130.8,670 C135,674 140,677.5 144.6,680.4"/>
<path fill="#000" stroke="none" d="M155,805 L159.5,804 L159.5,830 L156.5,831 Z"/>

</g>
<g id="arrows" fill="#000">
<path d="M0,0 L44,-12.3 L44,-7 L85,-12.3 L85,12.3 L44,7 L44,12.3 Z" transform="translate(270,184.5)"/>
<path d="M0,0 L44,-12.3 L44,-7 L85,-12.3 L85,12.3 L44,7 L44,12.3 Z" transform="translate(250.5,270.7) scale(-1,1)"/>
<path d="M0,0 L44,-12.3 L44,-7 L85,-12.3 L85,12.3 L44,7 L44,12.3 Z" transform="translate(384.5,313)"/>
<path d="M0,0 L44,-12.3 L44,-7 L85,-12.3 L85,12.3 L44,7 L44,12.3 Z" transform="translate(251.7,430.5) scale(-1,1)"/>
<path d="M0,0 L44,-12.3 L44,-7 L85,-12.3 L85,12.3 L44,7 L44,12.3 Z" transform="translate(394,449)"/>
<path d="M0,0 L44,-12.3 L44,-7 L85,-12.3 L85,12.3 L44,7 L44,12.3 Z" transform="translate(287.7,537.5) scale(-1,1)"/>
<path d="M0,0 L44,-12.3 L44,-7 L85,-12.3 L85,12.3 L44,7 L44,12.3 Z" transform="translate(395,620)"/>
<path d="M0,0 L44,-12.3 L44,-7 L85,-12.3 L85,12.3 L44,7 L44,12.3 Z" transform="translate(221,631.5) rotate(135)"/>
<path d="M0,0 L44,-12.3 L44,-7 L85,-12.3 L85,12.3 L44,7 L44,12.3 Z" transform="translate(400,716.5)"/>
<path d="M0,0 L44,-12.3 L44,-7 L85,-12.3 L85,12.3 L44,7 L44,12.3 Z" transform="translate(263,785) scale(-1,1)"/>
<path d="M0,0 L44,-12.3 L44,-7 L85,-12.3 L85,12.3 L44,7 L44,12.3 Z" transform="translate(404,842)"/>
</g>
</svg>
<div class="t">N0055350</div>
</body></html>
